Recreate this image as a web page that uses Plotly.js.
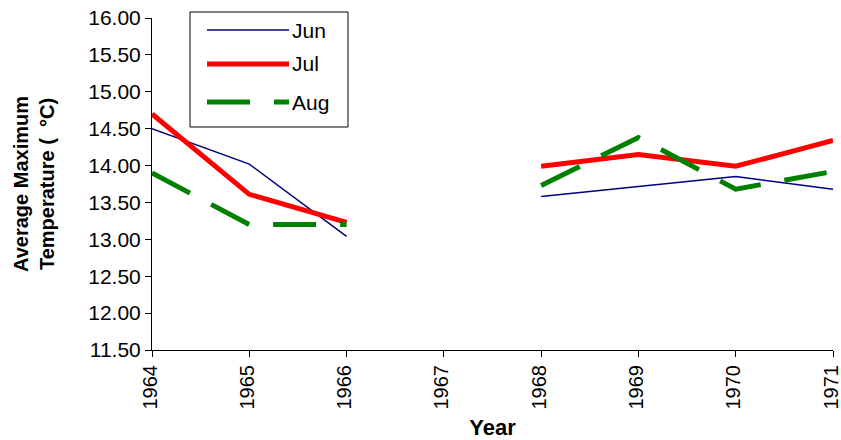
<!DOCTYPE html>
<html>
<head>
<meta charset="utf-8">
<script src="https://cdn.plot.ly/plotly-3.0.1.min.js"></script>
<style>
html,body{margin:0;padding:0;background:#fff;}
#chart{width:841px;height:440px;}
</style>
</head>
<body>
<div id="chart"></div>
<script>
const years = [1964, 1965, 1966, 1967, 1968, 1969, 1970, 1971];
const jun = [14.50, 14.02, 13.04, null, 13.58, 13.71, 13.85, 13.68];
const jul = [14.70, 13.61, 13.23, null, 13.99, 14.15, 13.99, 14.34];
const aug = [13.90, 13.20, 13.20, null, 13.73, 14.38, 13.68, 13.92];
const seriesNames = ['Jun', 'Jul', 'Aug'];
const yTicks = [11.5, 12, 12.5, 13, 13.5, 14, 14.5, 15, 15.5, 16];
const yTickText = yTicks.map(v => v.toFixed(2));

const font = "Liberation Sans, Arial, sans-serif";
const styles = [
  {color: '#000080', width: 1.5, dash: 'solid'},
  {color: '#FF0000', width: 5, dash: 'solid'},
  {color: '#008000', width: 5, dash: '43px,24px'}
];
const data = [jun, jul, aug];
const traces = data.map((ys, i) => ({
  x: years, y: ys, name: seriesNames[i], mode: 'lines', connectgaps: false,
  line: styles[i], showlegend: false
}));

// plot area in pixels
const L = 152, R = 833, T = 18, B = 350;
const px = p => (p - L) / (R - L);
const py = p => (B - p) / (B - T);

const shapes = [
  {type: 'rect', xref: 'paper', yref: 'paper', x0: px(190), x1: px(348), y0: py(12), y1: py(127),
   line: {color: '#000', width: 1}, fillcolor: '#fff', layer: 'above'}
];
const annotations = [];
const legY = [30, 64, 102];
seriesNames.forEach((n, i) => {
  shapes.push({type: 'line', xref: 'paper', yref: 'paper', x0: px(207), x1: px(289), y0: py(legY[i]), y1: py(legY[i]),
               line: {color: styles[i].color, width: styles[i].width, dash: styles[i].dash}, layer: 'above'});
  annotations.push({xref: 'paper', yref: 'paper', x: px(290), y: py(legY[i]), xanchor: 'left', yanchor: 'middle',
                    text: n, showarrow: false, font: {size: 21, family: font, color: '#000'}});
});

const layout = {
  width: 841, height: 440,
  margin: {l: L, r: 841 - R, t: T, b: 440 - B},
  paper_bgcolor: '#fff', plot_bgcolor: '#fff',
  font: {family: font, color: '#000', size: 20},
  showlegend: false,
  shapes: shapes,
  annotations: annotations,
  xaxis: {range: [1964, 1971], tickvals: years, ticktext: years.map(String),
          tickangle: -90, ticks: 'outside', ticklen: 6, tickcolor: '#000', tickwidth: 1,
          showline: true, linecolor: '#000', linewidth: 1, showgrid: false, zeroline: false,
          ticklabeloverflow: 'allow', ticklabelshift: -2,
          tickfont: {size: 20, family: font},
          title: {text: '<b>Year</b>', font: {size: 22, family: font}, standoff: 12}},
  xaxis2: {range: [1964, 1971], overlaying: 'x', tickvals: years, ticks: 'inside', ticklen: 6,
           tickcolor: '#000', showticklabels: false, showgrid: false, zeroline: false, side: 'bottom'},
  yaxis: {range: [11.5, 16], tickvals: yTicks, ticktext: yTickText,
          ticks: 'outside', ticklen: 6, tickcolor: '#000', tickwidth: 1,
          showline: true, linecolor: '#000', linewidth: 1, showgrid: false, zeroline: false,
          tickfont: {size: 21, family: font},
          title: {text: '<b>Average Maximum<br>Temperature (  °C)</b>', font: {size: 20, family: font}, standoff: 28}},
  yaxis2: {range: [11.5, 16], overlaying: 'y', tickvals: yTicks, ticks: 'inside', ticklen: 6,
           tickcolor: '#000', showticklabels: false, showgrid: false, zeroline: false, side: 'left'}
};
Plotly.newPlot('chart', traces, layout, {displayModeBar: false, staticPlot: true});
</script>
</body>
</html>
